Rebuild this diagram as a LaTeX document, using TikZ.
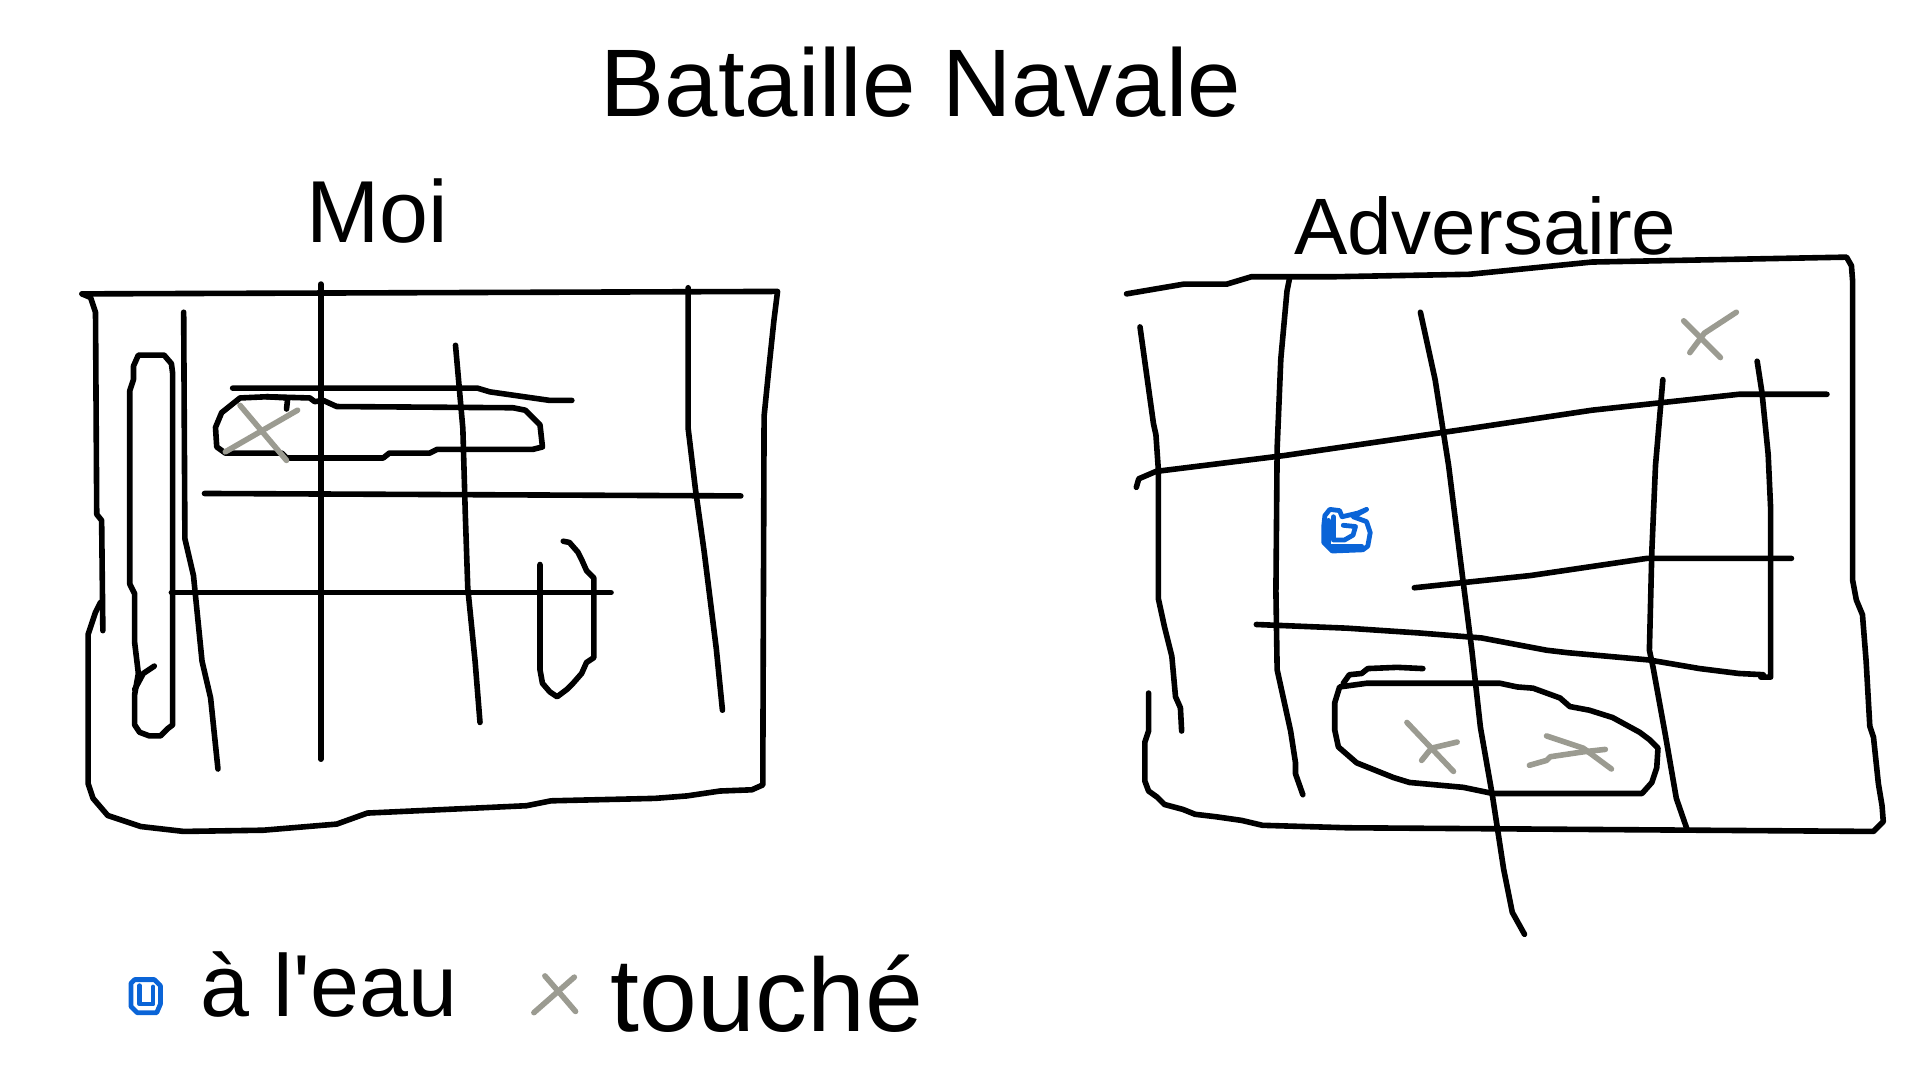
\documentclass[tikz,border=0pt]{standalone}
\usepackage{fontspec}
\setmainfont{Liberation Sans}
\newfontfamily\droit{Liberation Sans}
\definecolor{gris}{RGB}{155,155,145}
\definecolor{bleu}{RGB}{10,100,215}
\begin{document}
\begin{tikzpicture}[x=0.6122pt, y=-0.6122pt,
    trait/.style={line width=2.8pt, line cap=round, line join=round},
    croix/.style={trait, gris},
    eau/.style={line width=2.4pt, bleu, line cap=round, line join=round}]
  \useasboundingbox (0,0) rectangle (1568,882);
  \node [anchor=base, font=\fontsize{48}{48}\selectfont] (titre) at (752,95) {Bataille Navale};
  \node [anchor=base, font=\fontsize{44}{44}\selectfont] (moi) at (308,198) {Moi};
  \node [anchor=base, font=\fontsize{40}{40}\selectfont] (adversaire) at (1213,208) {Adversaire};
  \node [anchor=base west, font=\fontsize{44}{44}\selectfont] (aleau) at (158,830) {à l{\droit '}eau};
  \node [anchor=base west, font=\fontsize{52}{52}\selectfont] (touche) at (493,842) {touché};
  % grille moi
  \draw [trait] (67,240) -- (635,238) -- (632,262) -- (628,300) -- (624,340) -- (623,621) -- (623,641) -- (614,645) -- (588,646) -- (561,650) -- (535,652) -- (450,654) -- (430,658) -- (300,664) -- (275,673) -- (215,678) -- (150,679) -- (115,675) -- (88,666) -- (76,652) -- (72,640) -- (72,518) -- (78,500) -- (82,492);
  \draw [trait] (67,240) -- (74,243) -- (78,255) -- (79,420) -- (83,425) -- (84,515);
  \draw [trait] (150,255) -- (151,440) -- (158,470) -- (165,540) -- (172,570) -- (178,628);
  \draw [trait] (262,232) -- (262,620);
  \draw [trait] (372,282) -- (378,350) -- (380,420) -- (382,480) -- (388,540) -- (392,590);
  \draw [trait] (562,235) -- (562,350) -- (568,400) -- (575,450) -- (585,530) -- (590,580);
  \draw [trait] (190,317) -- (390,317) -- (400,320) -- (449,327) -- (467,327);
  \draw [trait] (167,403) -- (605,405);
  \draw [trait] (140,484) -- (499,484);
  \draw [trait] (113,290) -- (134,290) -- (140,297) -- (141,305) -- (141,592) -- (137,595) -- (131,601) -- (122,601) -- (114,598) -- (110,592) -- (110,567) -- (113,550) -- (110,525) -- (110,485) -- (106,477) -- (106,319) -- (109,310) -- (109,299) -- cycle;
  \draw [trait] (110,563) -- (117,550) -- (126,544);
  \draw [trait] (196,325) -- (218,324) -- (253,325) -- (257,328) -- (264,327) -- (275,332) -- (419,333) -- (429,335) -- (441,347) -- (443,365) -- (435,367) -- (357,367) -- (351,370) -- (318,370) -- (313,374) -- (234,374) -- (230,370) -- (184,370) -- (177,365) -- (176,349) -- (181,337) -- cycle;
  \draw [trait] (218,324) -- (235,325) -- (234,334);
  \draw [trait] (460,442) -- (465,443) -- (472,451) -- (475,457) -- (479,466) -- (485,472) -- (485,537) -- (479,541) -- (475,550) -- (468,558) -- (463,563) -- (455,569) -- (449,565) -- (443,558) -- (441,547) -- (441,461);
  \draw [croix] (196,331) -- (234,376);
  \draw [croix] (184,369) -- (243,335);
  % grille adversaire
  \draw [trait] (920,240) -- (967,232) -- (1002,232) -- (1022,226) -- (1090,226) -- (1200,224) -- (1300,214) -- (1508,210) -- (1512,217) -- (1513,230) -- (1513,474) -- (1516,490) -- (1521,502) -- (1524,540) -- (1527,593) -- (1530,602) -- (1534,640) -- (1537,658) -- (1538,671) -- (1530,679) -- (1100,676) -- (1031,674) -- (1014,670) -- (993,667) -- (976,665) -- (966,661) -- (951,657) -- (945,651) -- (938,646) -- (935,638) -- (935,606) -- (938,597) -- (938,566);
  \draw [trait] (931,267) -- (942,346) -- (944,355) -- (946,384) -- (946,489) -- (951,512) -- (957,536) -- (960,569) -- (964,578) -- (965,597);
  \draw [trait] (1053,228) -- (1051,238) -- (1046,293) -- (1043,366) -- (1042,483) -- (1043,547) -- (1054,597) -- (1058,623) -- (1058,632) -- (1064,649);
  \draw [trait] (1160,255) -- (1172,310) -- (1183,380) -- (1193,460) -- (1202,531) -- (1209,594) -- (1219,651) -- (1228,710) -- (1235,745) -- (1245,763);
  \draw [trait] (1358,310) -- (1352,380) -- (1349,450) -- (1347,531) -- (1350,545) -- (1360,600) -- (1369,652) -- (1378,678);
  \draw [trait] (1435,295) -- (1439,321) -- (1444,371) -- (1446,415) -- (1446,553) -- (1438,553);
  \draw [trait] (928,398) -- (930,391) -- (944,385) -- (1049,372) -- (1090,366) -- (1200,350) -- (1300,335) -- (1420,322) -- (1492,322);
  \draw [trait] (1155,480) -- (1250,470) -- (1345,456) -- (1463,456);
  \draw [trait] (1026,510) -- (1100,513) -- (1160,517) -- (1210,521) -- (1263,531) -- (1280,533) -- (1347,539) -- (1388,546) -- (1420,550) -- (1440,551);
  \draw [trait] (1094,561) -- (1116,558) -- (1225,558) -- (1239,561) -- (1252,562) -- (1274,570) -- (1282,577) -- (1298,580) -- (1317,586) -- (1339,598) -- (1347,604) -- (1354,611) -- (1353,627) -- (1349,639) -- (1341,648) -- (1219,648) -- (1195,643) -- (1151,639) -- (1138,635) -- (1108,623) -- (1093,610) -- (1090,596) -- (1090,574) -- cycle;
  \draw [trait] (1097,558) -- (1102,551) -- (1112,550) -- (1117,546) -- (1141,545) -- (1162,546);
  \draw [croix] (1149,590) -- (1187,630);
  \draw [croix] (1161,621) -- (1169,611) -- (1190,606);
  \draw [croix] (1263,601) -- (1293,611) -- (1316,628);
  \draw [croix] (1249,625) -- (1263,621) -- (1266,618) -- (1293,614) -- (1311,612);
  \draw [croix] (1375,262) -- (1405,292);
  \draw [croix] (1380,288) -- (1392,272) -- (1418,255);
  \draw [eau] (1081,430) -- (1082,421) -- (1086,416) -- (1094,417) -- (1096,422) -- (1109,419) -- (1116,416) -- (1105,422) -- (1116,426) -- (1119,435) -- (1117,446) -- (1113,449) -- (1088,450) -- (1081,443) -- cycle;
  \draw [eau] (1089,422) -- (1089,441) -- (1098,441) -- (1105,437) -- (1107,430) -- (1097,429);
  \draw [eau] (1085,425) -- (1085,446) -- (1112,446);
  % legende
  \draw [eau] (107,803) -- (107,822) -- (112,827) -- (128,827) -- (131,820) -- (131,805) -- (126,800) -- (110,800) -- cycle;
  \draw [eau] (114,805) -- (114,820) -- (125,820) -- (125,806);
  \draw [croix] (445,797) -- (458,812) -- (470,826);
  \draw [croix] (469,798) -- (436,827);
\end{tikzpicture}
\end{document}
